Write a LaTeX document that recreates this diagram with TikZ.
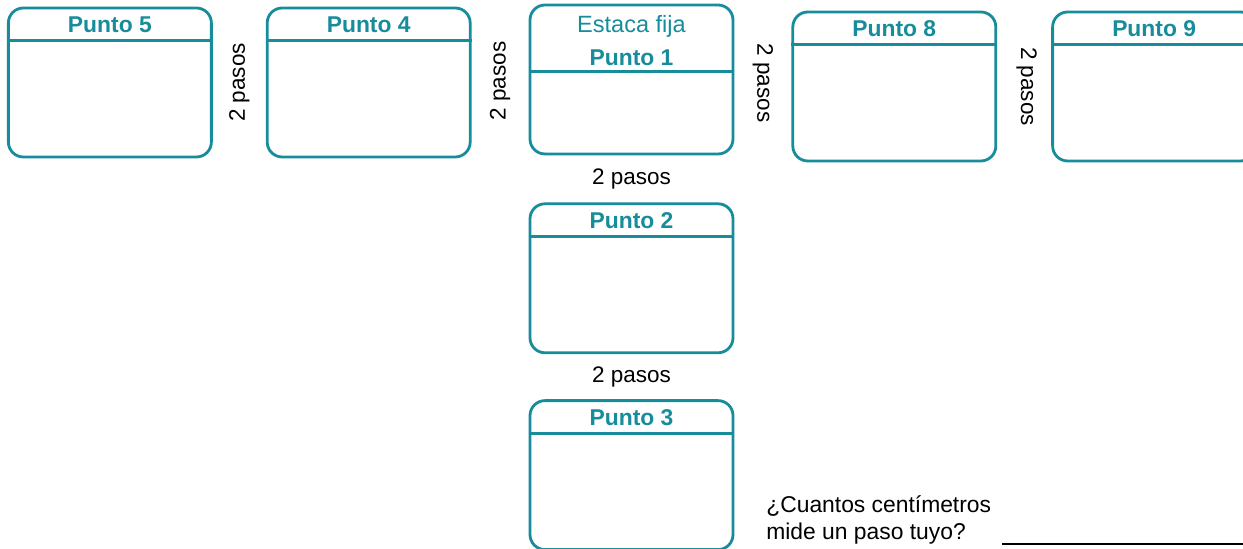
\documentclass[tikz,border=0pt]{standalone}
\usepackage{fontspec}
\setmainfont{Liberation Sans}
\usepackage{xcolor}
\usetikzlibrary{positioning}
\definecolor{PuntoTeal}{HTML}{178C9B}

\begin{document}
\begin{tikzpicture}[
    node distance=1.14cm,
    punto/.style={draw=PuntoTeal, line width=1.6pt, rounded corners=0.3cm,
      minimum width=4.06cm, minimum height=2.98cm, inner sep=0pt},
    titulo/.style={text=PuntoTeal, font=\fontsize{13}{15}\selectfont\bfseries, inner sep=0pt},
    estaca/.style={text=PuntoTeal, font=\fontsize{13.4}{15}\selectfont, inner sep=0pt},
    pasos/.style={font=\fontsize{12.8}{15}\selectfont, inner sep=0pt},
    pregunta/.style={font=\fontsize{13}{15.4}\selectfont, align=left, inner sep=0pt},
    raya/.style={draw=PuntoTeal, line width=1.6pt}
  ]
    \useasboundingbox (0,0) rectangle (24.86,10.98);
    % fixed stake and the row of points
    \node[punto] (p1) at (12.63,9.39) {};
    \node[punto, left=of p1, yshift=-0.06cm] (p4) {};
    \node[punto, left=1.06cm of p4] (p5) {};
    \node[punto, right=of p1, yshift=-0.14cm] (p8) {};
    \node[punto, right=1.08cm of p8] (p9) {};
    \node[punto, below=0.94cm of p1] (p2) {};
    \node[punto, below=0.90cm of p2] (p3) {};
    % header lines
    \foreach \p in {p5,p4,p8,p9,p2,p3}
      \draw[raya] ([yshift=-0.68cm]\p.north west) -- ([yshift=-0.68cm]\p.north east);
    \draw[raya] ([yshift=-1.36cm]p1.north west) -- ([yshift=-1.36cm]p1.north east);
    % titles
    \node[estaca] (e1) at ([yshift=-0.46cm]p1.north) {Estaca fija};
    \node[titulo] (t1) at ([yshift=-1.08cm]p1.north) {Punto 1};
    \foreach \p/\n in {p5/5,p4/4,p8/8,p9/9,p2/2,p3/3}
      \node[titulo] (t\n) at ([yshift=-0.37cm]\p.north) {Punto \n};
    % distances
    \path (p5) -- node[pasos, rotate=90] (d54) {2 pasos} (p4);
    \path (p4) -- node[pasos, rotate=90] (d41) {2 pasos} (p1);
    \path (p1) -- node[pasos, rotate=-90] (d18) {2 pasos} (p8);
    \path (p8) -- node[pasos, rotate=-90, yshift=0.05cm] (d89) {2 pasos} (p9);
    \path (p1) -- node[pasos] (d12) {2 pasos} (p2);
    \path (p2) -- node[pasos] (d23) {2 pasos} (p3);
    % question
    \node[pregunta, anchor=south west] (q) at (15.32,0.08) {¿Cuantos centímetros\\mide un paso tuyo?};
    \coordinate (linea a) at (20.04,0.1);
    \coordinate (linea b) at (24.86,0.1);
    \draw[line width=0.8pt] (linea a) -- (linea b);
  \end{tikzpicture}
\end{document}
